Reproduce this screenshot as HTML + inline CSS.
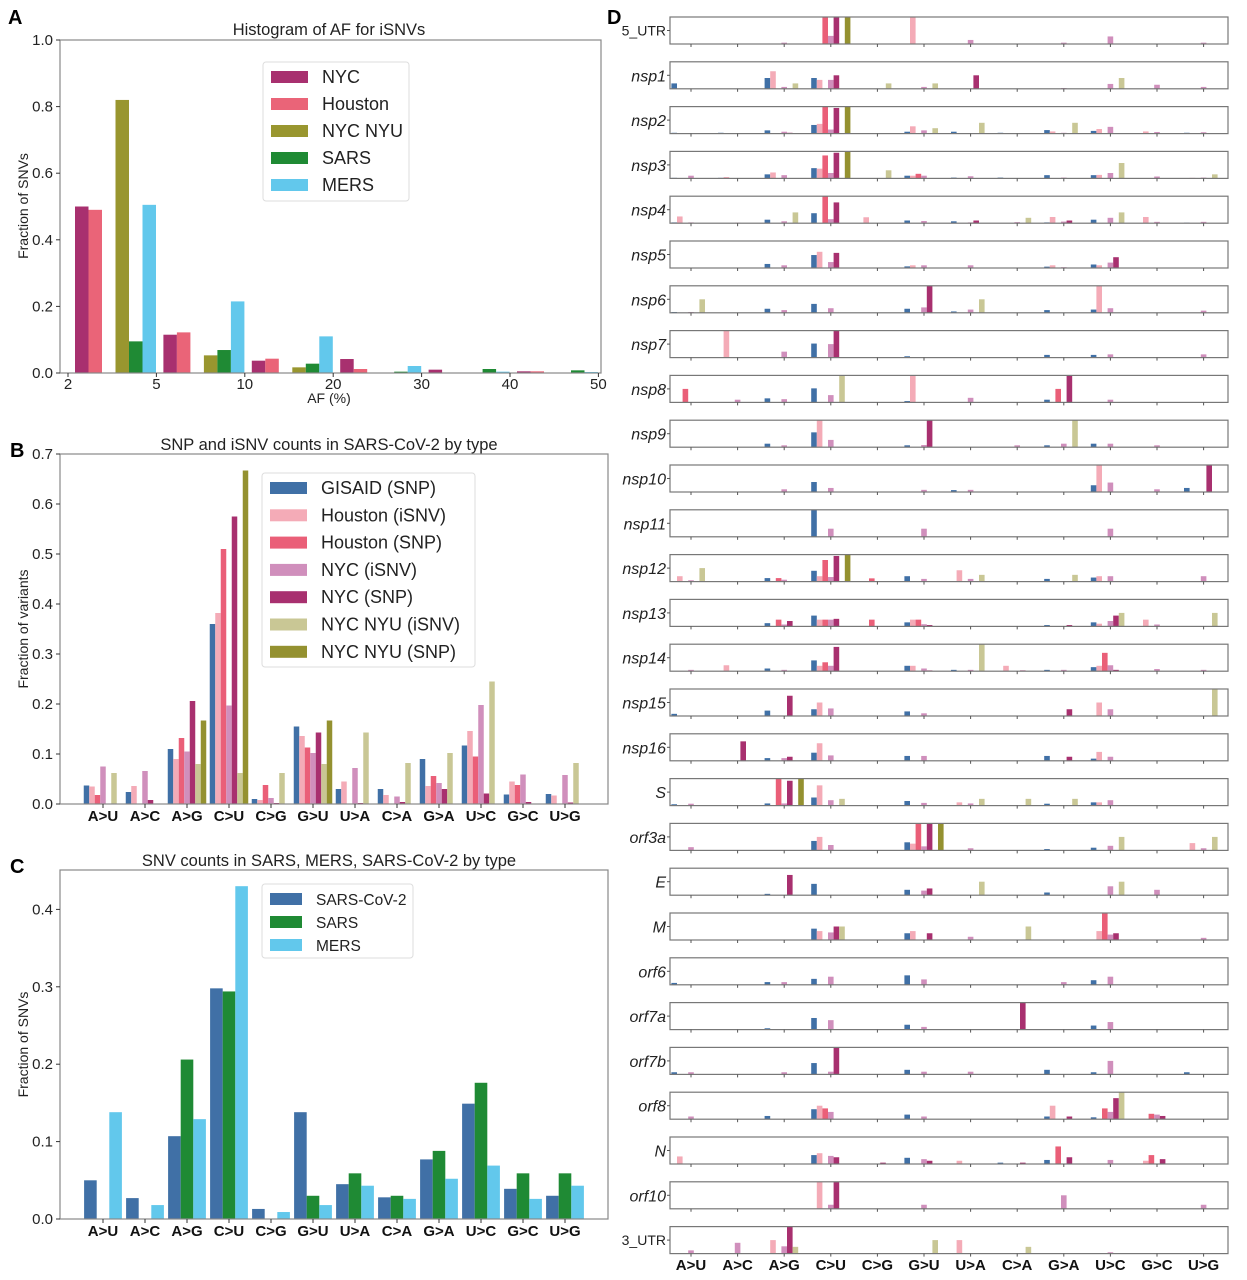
<!DOCTYPE html>
<html><head><meta charset="utf-8"><style>
body{margin:0;background:#fff}
svg{display:block;font-family:"Liberation Sans",sans-serif}
</style></head><body>
<svg id="fig" width="1247" height="1280" viewBox="0 0 1247 1280"></svg>
<script>
// ---------- Panel A data ----------
const aBins=["2","5","10","20","30","40","50"];
const aSeries=["NYC","Houston","NYC NYU","SARS","MERS"];
const aNYC=[0.50,0.115,0.037,0.042,0.010,0.005];
const aHouston=[0.49,0.122,0.043,0.012,0,0.005];
const aNYU=[0.82,0.053,0.017,0,0,0];
const aSARS=[0.095,0.069,0.028,0.004,0.012,0.008];
const aMERS=[0.505,0.215,0.11,0.021,0.004,0.003];
const aYTicks=[0,0.2,0.4,0.6,0.8,1.0];
// ---------- Panel B data ----------
const cats=["A>U","A>C","A>G","C>U","C>G","G>U","U>A","C>A","G>A","U>C","G>C","U>G"];
const bSeries=["GISAID (SNP)","Houston (iSNV)","Houston (SNP)","NYC (iSNV)","NYC (SNP)","NYC NYU (iSNV)","NYC NYU (SNP)"];
const bGISAID=[.037,.024,.11,.36,.01,.155,.03,.03,.09,.117,.019,.02];
const bHouIsnv=[.035,.036,.09,.382,.008,.136,.045,.018,.036,.146,.045,.017];
const bHouSnp=[.018,0,.132,.51,.038,.113,0,0,.056,.095,.038,0];
const bNycIsnv=[.075,.066,.105,.197,.012,.102,.072,.015,.042,.198,.059,.058];
const bNycSnp=[0,.008,.206,.575,.002,.143,.002,.004,.03,.021,.004,.003];
const bNyuIsnv=[.062,0,.08,.062,.062,.08,.143,.082,.102,.245,0,.082];
const bNyuSnp=[0,0,.167,.667,0,.167,0,0,0,0,0,0];
const bYTicks=[0,0.1,0.2,0.3,0.4,0.5,0.6,0.7];
// ---------- Panel C data ----------
const cSeries=["SARS-CoV-2","SARS","MERS"];
const cCov2=[.05,.027,.107,.298,.013,.138,.045,.028,.077,.149,.039,.03];
const cSARS=[0,0,.206,.294,0,.03,.059,.03,.088,.176,.059,.059];
const cMERS=[.138,.018,.129,.43,.009,.018,.043,.026,.052,.069,.026,.043];
const cYTicks=[0,0.1,0.2,0.3,0.4];
// ---------- Panel D data: [category, series, relative height] ----------
const dGenes=["5_UTR","nsp1","nsp2","nsp3","nsp4","nsp5","nsp6","nsp7","nsp8","nsp9","nsp10","nsp11","nsp12","nsp13","nsp14","nsp15","nsp16","S","orf3a","E","M","orf6","orf7a","orf7b","orf8","N","orf10","3_UTR"];
const dBars=[
[[3,2,1],[3,3,.3],[3,4,1],[3,6,1],[5,1,1],[6,3,.15],[8,3,.05],[9,3,.28],[11,3,.05],[2,3,.05]],
[[0,0,.2],[2,0,.4],[2,1,.65],[2,3,.07],[2,5,.2],[3,0,.4],[3,1,.33],[3,3,.33],[3,4,.5],[4,5,.2],[5,3,.07],[5,5,.2],[6,4,.5],[8,3,.03],[9,3,.18],[9,5,.4],[10,3,.15],[11,3,.07]],
[[0,0,.03],[1,0,.03],[2,0,.12],[2,3,.07],[2,4,.03],[3,0,.32],[3,1,.36],[3,2,1],[3,3,.15],[3,4,.95],[3,6,1],[5,0,.07],[5,1,.27],[5,3,.12],[5,5,.2],[6,0,.07],[6,5,.4],[7,0,.03],[8,0,.13],[8,1,.08],[8,3,.03],[8,5,.4],[9,0,.1],[9,1,.17],[9,3,.25],[10,1,.08],[10,3,.06],[11,0,.03],[11,3,.05]],
[[0,0,.02],[0,3,.1],[1,0,.02],[1,1,.05],[2,0,.15],[2,1,.22],[2,3,.12],[3,0,.38],[3,1,.36],[3,2,.85],[3,3,.2],[3,4,.95],[3,6,1],[4,5,.3],[5,0,.1],[5,1,.1],[5,2,.17],[5,3,.1],[6,0,.03],[6,3,.08],[7,0,.03],[8,0,.12],[8,3,.03],[9,0,.12],[9,1,.13],[9,3,.2],[9,5,.57],[10,3,.07],[11,1,.02],[11,3,.03],[11,5,.15]],
[[0,0,.03],[0,1,.25],[0,3,.03],[1,3,.02],[2,0,.13],[2,3,.07],[2,5,.4],[3,0,.37],[3,2,1],[3,3,.15],[3,4,.77],[4,1,.22],[5,0,.1],[5,3,.08],[6,0,.07],[6,3,.03],[6,4,.1],[7,3,.04],[7,5,.2],[8,0,.03],[8,1,.23],[8,3,.06],[8,4,.1],[9,0,.13],[9,3,.2],[9,5,.4],[10,1,.23],[10,3,.05],[11,0,.02],[11,3,.05]],
[[2,0,.15],[2,3,.1],[3,0,.48],[3,1,.6],[3,3,.22],[3,4,.56],[5,0,.06],[5,1,.1],[5,3,.1],[6,3,.1],[8,0,.05],[8,1,.1],[8,3,.03],[9,0,.13],[9,1,.1],[9,3,.2],[9,4,.4]],
[[0,0,.03],[0,3,.03],[0,5,.5],[2,0,.15],[2,3,.1],[3,0,.33],[3,3,.17],[5,0,.15],[5,3,.2],[5,4,1],[6,0,.05],[6,3,.12],[6,5,.5],[8,0,.1],[9,0,.12],[9,1,1],[9,3,.17],[11,3,.08]],
[[1,1,1],[2,3,.22],[3,0,.52],[3,3,.5],[3,4,1],[5,0,.05],[8,0,.1],[9,0,.1],[9,3,.12],[11,3,.12]],
[[0,2,.5],[1,3,.1],[2,0,.15],[2,3,.12],[3,0,.52],[3,3,.27],[3,5,1],[5,0,.05],[5,1,1],[6,3,.17],[8,0,.1],[8,2,.5],[8,4,1],[9,3,.1]],
[[2,0,.13],[2,3,.07],[3,0,.55],[3,1,1],[3,3,.27],[5,0,.07],[5,3,.08],[5,4,1],[7,3,.07],[8,0,.07],[8,3,.13],[8,5,1],[9,0,.13],[9,3,.13],[10,3,.07]],
[[2,3,.1],[3,0,.37],[3,3,.15],[5,3,.08],[6,0,.07],[6,3,.08],[9,0,.25],[9,1,1],[9,3,.35],[10,3,.1],[11,0,.15],[11,4,1]],
[[3,0,1],[3,3,.3],[5,3,.3],[9,3,.3]],
[[0,1,.2],[0,3,.05],[0,5,.5],[2,0,.13],[2,2,.13],[2,3,.07],[3,0,.4],[3,1,.2],[3,2,.8],[3,3,.17],[3,4,.95],[3,6,1],[4,2,.12],[5,0,.2],[5,3,.1],[6,1,.42],[6,3,.1],[6,5,.25],[8,0,.1],[8,5,.25],[9,0,.15],[9,1,.2],[9,3,.2],[11,3,.2]],
[[2,0,.12],[2,2,.25],[2,3,.07],[2,4,.2],[3,0,.4],[3,1,.25],[3,2,.25],[3,3,.25],[3,4,.28],[4,2,.25],[5,0,.15],[5,1,.25],[5,2,.25],[5,3,.08],[5,4,.05],[8,0,.05],[8,4,.05],[9,0,.15],[9,1,.1],[9,3,.2],[9,4,.4],[9,5,.5],[10,1,.25],[10,3,.07],[11,5,.5]],
[[0,3,.05],[1,1,.22],[2,0,.1],[2,3,.05],[3,0,.4],[3,1,.2],[3,2,.33],[3,3,.2],[3,4,.9],[5,0,.2],[5,1,.2],[5,3,.1],[5,4,.03],[6,0,.05],[6,3,.05],[6,5,1],[7,1,.2],[7,4,.03],[8,0,.05],[8,3,.05],[9,0,.15],[9,1,.2],[9,2,.68],[9,3,.22],[9,4,.05],[10,3,.08],[11,3,.05]],
[[0,0,.08],[2,0,.2],[2,4,.75],[3,0,.25],[3,1,.5],[3,3,.28],[5,0,.17],[5,3,.1],[8,4,.25],[9,1,.5],[9,3,.25],[11,5,1]],
[[1,4,.72],[2,0,.1],[2,3,.1],[2,4,.15],[3,0,.3],[3,1,.65],[3,3,.2],[5,0,.18],[5,3,.18],[8,0,.18],[8,4,.15],[9,0,.08],[9,1,.33],[9,3,.15]],
[[0,0,.05],[0,3,.07],[2,0,.08],[2,2,1],[2,3,.08],[2,4,.92],[2,6,1],[3,0,.3],[3,1,.75],[3,3,.2],[3,5,.25],[5,0,.17],[5,3,.1],[6,1,.12],[6,3,.08],[6,5,.25],[7,5,.25],[8,0,.07],[8,5,.25],[9,0,.12],[9,1,.12],[9,3,.2]],
[[0,3,.12],[3,0,.35],[3,1,.5],[3,3,.2],[5,0,.3],[5,1,.25],[5,2,1],[5,3,.15],[5,4,1],[5,6,1],[6,3,.08],[8,0,.05],[9,0,.1],[9,3,.17],[9,5,.5],[11,1,.27],[11,3,.08],[11,5,.5]],
[[2,0,.05],[2,4,.75],[3,0,.42],[5,0,.2],[5,3,.17],[5,4,.25],[6,5,.5],[8,0,.1],[9,3,.33],[9,5,.5],[10,3,.2]],
[[3,0,.42],[3,1,.33],[3,3,.28],[3,4,.5],[3,5,.5],[5,0,.25],[5,1,.33],[5,4,.25],[6,3,.12],[7,5,.5],[9,1,.33],[9,2,1],[9,3,.2],[9,4,.25],[11,3,.08]],
[[0,0,.07],[2,0,.1],[2,3,.1],[3,0,.22],[3,3,.3],[5,0,.35],[5,3,.2],[8,3,.1],[9,0,.17],[9,3,.3]],
[[2,0,.05],[3,0,.43],[3,3,.35],[5,0,.18],[5,3,.1],[7,4,1],[9,0,.15],[9,3,.28]],
[[0,0,.08],[0,3,.08],[2,3,.08],[3,0,.42],[3,3,.1],[3,4,1],[5,0,.17],[5,3,.1],[6,3,.1],[8,0,.17],[9,0,.08],[9,3,.5],[11,0,.08]],
[[0,3,.1],[2,0,.12],[3,0,.37],[3,1,.5],[3,2,.4],[3,3,.27],[5,0,.17],[5,3,.1],[8,0,.1],[8,1,.5],[8,4,.1],[9,0,.07],[9,2,.4],[9,3,.27],[9,4,.78],[9,5,1],[10,2,.2],[10,3,.17],[10,4,.12]],
[[0,1,.28],[3,0,.33],[3,1,.4],[3,3,.3],[3,4,.25],[4,4,.05],[5,0,.23],[5,3,.18],[5,4,.12],[6,1,.12],[7,0,.05],[7,4,.05],[8,0,.15],[8,2,.65],[8,4,.25],[9,3,.15],[10,1,.12],[10,2,.33],[10,4,.18]],
[[3,1,1],[3,3,.15],[3,4,1],[5,3,.15],[8,3,.5],[11,3,.15]],
[[0,3,.12],[1,3,.4],[2,1,.5],[2,3,.27],[2,4,1],[2,5,.25],[5,5,.5],[6,1,.5],[7,5,.25],[9,3,.05]]
];

const svg=document.getElementById('fig');
const NS='http://www.w3.org/2000/svg';
function mk(tag,attrs,parent){const e=document.createElementNS(NS,tag);for(const k in attrs)e.setAttribute(k,attrs[k]);(parent||svg).appendChild(e);return e;}
function txt(s,x,y,attrs,parent){const e=mk('text',Object.assign({x:x,y:y},attrs),parent);e.textContent=s;return e;}

const colA=["#a8306f","#ea6478","#99962f","#1f8a34","#62c8ec"];
const colB=["#4070a6","#f4abb7","#ea5f78","#d08fbc","#a8306f","#c9c795","#949130"];
const colC=["#4070a6","#1f8a34","#62c8ec"];

function yAxis(g,x0,y0,yscale,ticks,fmt){
  ticks.forEach(t=>{const y=yscale(t);
    mk('line',{x1:x0-4,x2:x0,y1:y,y2:y,stroke:'#333'},g);
    const l=txt(fmt(t),x0-7,y+5,{'font-size':15,'text-anchor':'end',fill:'#222'},g);
    
    });
}
function frame(g,x0,y0,x1,y1){
  const r=mk('rect',{x:x0,y:y0,width:x1-x0,height:y1-y0,fill:'none',stroke:'#888','stroke-width':1.2},g);
  
  
}
function legend(g,x,y,w,h,names,cols,step,fs,pw){
  const lg=mk('g',{},g);
  
  
  mk('rect',{x:x,y:y,width:w,height:h,fill:'#fff',stroke:'#ddd',rx:3},lg);
  names.forEach((n,i)=>{const cy=y+15+i*step;
    const e=mk('g',{},lg);
    
    
    mk('rect',{x:x+8,y:cy-6,width:pw,height:12,fill:cols[i]},e);
    txt(n,x+pw+22,cy+6,{'font-size':fs,fill:'#222'},e);});
}

// ===== Panel A =====
(function(){
const g=mk('g',{});
const L=60,R=601,T=40,B=373;
const ys=v=>B-v*(B-T);
const x0=68,step=88.4,slot=13.5;
txt('A',8,24,{'font-size':20,'font-weight':'bold'},g);
const t=txt('Histogram of AF for iSNVs',329,35,{'font-size':16.5,'text-anchor':'middle',fill:'#222'},g);

const series=[aNYC,aHouston,aNYU,aSARS,aMERS];const slots=[0,1,3,4,5];
series.forEach((arr,si)=>arr.forEach((v,bi)=>{
  const r=mk('rect',{x:x0+bi*step+7+slots[si]*slot,y:ys(v),width:slot,height:B-ys(v),fill:colA[si]},g);
  
  }));
frame(g,L,T,R,B);
yAxis(g,L,B,ys,aYTicks,v=>v.toFixed(1));
aBins.forEach((b,i)=>{const x=x0+i*step;mk('line',{x1:x,x2:x,y1:B,y2:B+4,stroke:'#333'},g);
  const l=txt(b,x,B+16,{'font-size':15,'text-anchor':'middle',fill:'#222'},g);
  });
const xl=txt('AF (%)',329,403,{'font-size':14,'text-anchor':'middle',fill:'#222'},g);

const yl=txt('Fraction of SNVs',28,206,{'font-size':14,'text-anchor':'middle',fill:'#222',transform:'rotate(-90 28 206)'},g);

legend(g,263,62,146,139,aSeries,colA,27,18,37);
})();

// ===== Panel B & C (category charts) =====
function catChart(name,letter,title,L,R,T,B,ymax,ticks,series,cols,names,nbars,bw,ylabel,lg){
  const g=mk('g',{});
  const ys=v=>B-v/ymax*(B-T);
  txt(letter,10,T+3,{'font-size':20,'font-weight':'bold'},g);
  const t=txt(title,329,T-4,{'font-size':16.5,'text-anchor':'middle',fill:'#222'},g);
  
  series.forEach((arr,si)=>arr.forEach((v,ci)=>{
    const cx=103+ci*42;
    const r=mk('rect',{x:cx-nbars*bw/2+si*bw,y:ys(v),width:bw,height:B-ys(v),fill:cols[si]},g);
    
    }));
  frame(g,L,T,R,B);
  yAxis(g,L,B,ys,ticks,v=>v.toFixed(1));
  cats.forEach((c,i)=>{const x=103+i*42;mk('line',{x1:x,x2:x,y1:B,y2:B+4,stroke:'#333'},g);
    const l=txt(c,x,B+17,{'font-size':15,'font-weight':'bold','text-anchor':'middle',fill:'#111'},g);
    });
  const yl=txt(ylabel,28,(T+B)/2,{'font-size':14,'text-anchor':'middle',fill:'#222',transform:'rotate(-90 28 '+((T+B)/2)+')'},g);
  
  legend(g,lg[0],lg[1],lg[2],lg[3],names,cols,lg[4],lg[5],lg[6]);
}
catChart('panel-b','B','SNP and iSNV counts in SARS-CoV-2 by type',60,608,454,804,0.7,bYTicks,
  [bGISAID,bHouIsnv,bHouSnp,bNycIsnv,bNycSnp,bNyuIsnv,bNyuSnp],colB,bSeries,7,5.5,'Fraction of variants',[262,473,213,194,27.3,18,37]);
catChart('panel-c','C','SNV counts in SARS, MERS, SARS-CoV-2 by type',60,608,870,1219,(1219-870)/774,cYTicks,
  [cCov2,cSARS,cMERS],colC,cSeries,3,12.6,'Fraction of SNVs',[262,884,151,74,23,15.5,32]);

// ===== Panel D =====
(function(){
const g=mk('g',{});
txt('D',607,24,{'font-size':20,'font-weight':'bold'},g);
const L=670,R=1228,H=27,tick0=691,cs=46.6,bw=5.6;
dGenes.forEach((gn,i)=>{
  const top=17+i*44.8,bot=top+H;
  const sg=mk('g',{},g);
  
  
  dBars[i].forEach(b=>{
    const h=Math.min(b[2],1)*H;
    const r=mk('rect',{x:tick0+b[0]*cs+(b[1]-3.5)*bw,y:bot-h,width:bw,height:h,fill:colB[b[1]]},sg);
    
    });
  mk('rect',{x:L,y:top,width:R-L,height:H,fill:'none',stroke:'#777','stroke-width':1.2},sg);
  cats.forEach((c,ci)=>mk('line',{x1:tick0+ci*cs,x2:tick0+ci*cs,y1:bot,y2:bot+3,stroke:'#555'},sg));
  mk('line',{x1:L-3,x2:L,y1:top+H/2,y2:top+H/2,stroke:'#555'},sg);
  const utr=gn.indexOf('UTR')>=0;
  const l=txt(gn,L-4,top+H/2+(utr?5:6),{'font-size':utr?14:16,'font-style':utr?'normal':'italic','text-anchor':'end',fill:'#222'},sg);
  
});
cats.forEach((c,ci)=>{const l=txt(c,tick0+ci*cs,1270,{'font-size':15,'font-weight':'bold','text-anchor':'middle',fill:'#111'},g);
  });
})();
</script>
</body></html>
